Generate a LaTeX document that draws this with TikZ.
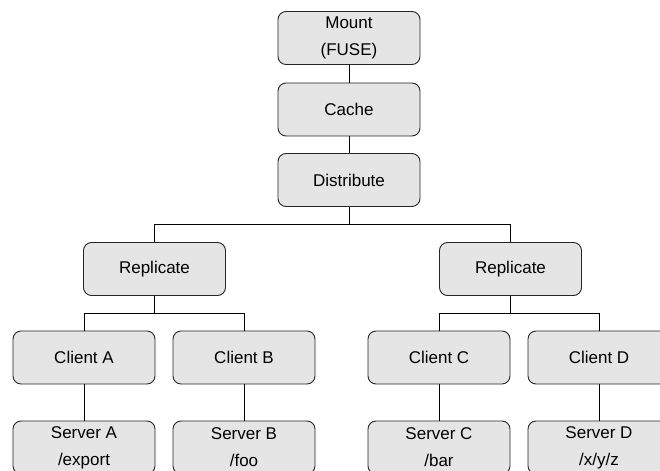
\documentclass[tikz,border=0pt]{standalone}
\usepackage{fontspec}
\setmainfont{Liberation Sans}
\usetikzlibrary{positioning}

\begin{document}
\begin{tikzpicture}[x=1bp, y=-1bp,
  box/.style={draw=black!85, line width=0.9bp, fill=gray!20, rounded corners=8bp,
    minimum width=142bp, minimum height=53bp, inner sep=0pt,
    align=center, font=\fontsize{17bp}{27bp}\selectfont},
  wire/.style={draw=black, line width=0.8bp}]
  \useasboundingbox (0,0) rectangle (660,471);

  % Top stack
  \node[box] (mount) at (349,38) {Mount\\(FUSE)};
  \node[box] (cache) at (349,109.5) {Cache};
  \node[box] (dist) at (349,180) {Distribute};
  \draw[wire] (mount) -- (cache);
  \draw[wire] (cache) -- (dist);

  % Replicate level
  \coordinate (bus) at (0,224);
  \node[box] (repL) at (154.5,269) {Replicate};
  \node[box] (repR) at (510.5,269) {Replicate};
  \draw[wire] (dist.south) -- (dist.south |- bus) -| (repL.north);
  \draw[wire] (dist.south |- bus) -| (repR.north);

  % Clients and servers
  \coordinate (cbus) at (0,313);
  \foreach \n/\x/\r/\dir in {A/84/repL/{/export}, B/244/repL/{/foo},
                             C/439/repR/{/bar}, D/599/repR/{/x/y/z}} {
    \node[box] (client\n) at (\x,357.5) {Client \n};
    \node[box] (server\n) at (\x,447.5) {Server \n\\\dir};
    \draw[wire] (\r.south) -- (\r.south |- cbus) -| (client\n.north);
    \draw[wire] (client\n) -- (server\n);
  }
\end{tikzpicture}
\end{document}
